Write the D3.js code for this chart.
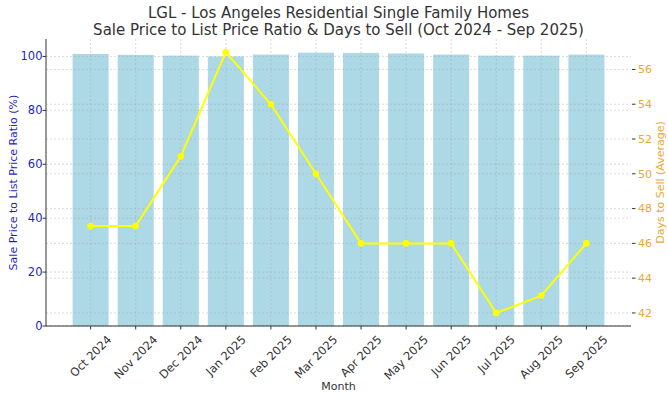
<!DOCTYPE html>
<html>
<head>
<meta charset="utf-8">
<script src="https://cdn.jsdelivr.net/npm/d3@7"></script>
<style>
  body { margin: 0; background: #fff; }
  svg { font-family: "DejaVu Sans", sans-serif; }
</style>
</head>
<body>
<script>
var months = ["Oct 2024", "Nov 2024", "Dec 2024", "Jan 2025", "Feb 2025", "Mar 2025",
              "Apr 2025", "May 2025", "Jun 2025", "Jul 2025", "Aug 2025", "Sep 2025"];
var saleToList = [100.9, 100.6, 100.3, 100.0, 100.7, 101.4, 101.3, 101.1, 100.7, 100.3, 100.3, 100.7];
var daysToSell = [47, 47, 51, 57, 54, 50, 46, 46, 46, 42, 43, 46];
var leftTicks = [0, 20, 40, 60, 80, 100];
var rightTicks = [42, 44, 46, 48, 50, 52, 54, 56];

var width = 668, height = 397;
var mLeft = 46, mRight = 631, mTop = 39, mBottom = 326;

var svg = d3.select("body").append("svg")
    .attr("width", width)
    .attr("height", height);

// matplotlib-like margins around bars
var x = d3.scaleLinear().domain([-0.99, months.length - 1 + 0.99]).range([mLeft, mRight]);
var yL = d3.scaleLinear().domain([0, d3.max(saleToList) * 1.05]).range([mBottom, mTop]);
var dMin = d3.min(daysToSell), dMax = d3.max(daysToSell), pad = (dMax - dMin) * 0.05;
var yR = d3.scaleLinear().domain([dMin - pad, dMax + pad]).range([mBottom, mTop]);

// bars
svg.append("g")
    .selectAll("rect")
    .data(saleToList)
    .join("rect")
    .attr("x", (d, i) => x(i - 0.4))
    .attr("width", x(0.8) - x(0))
    .attr("y", d => yL(d))
    .attr("height", d => yL(0) - yL(d))
    .attr("fill", "#add8e6");

// grids (drawn over bars, faint)
var grid = svg.append("g")
    .attr("stroke", "#a8a8a8")
    .attr("stroke-width", 0.6)
    .attr("stroke-dasharray", "2,2")
    .attr("opacity", 0.7);

grid.selectAll(".gx")
    .data(months)
    .join("line")
    .attr("x1", (d, i) => x(i)).attr("x2", (d, i) => x(i))
    .attr("y1", mTop).attr("y2", mBottom);

grid.selectAll(".gl")
    .data(leftTicks)
    .join("line")
    .attr("x1", mLeft).attr("x2", mRight)
    .attr("y1", d => yL(d)).attr("y2", d => yL(d));

grid.selectAll(".gr")
    .data(rightTicks)
    .join("line")
    .attr("x1", mLeft).attr("x2", mRight)
    .attr("y1", d => yR(d)).attr("y2", d => yR(d));

// days to sell line
var line = d3.line()
    .x((d, i) => x(i))
    .y(d => yR(d));

svg.append("path")
    .datum(daysToSell)
    .attr("d", line)
    .attr("fill", "none")
    .attr("stroke", "#ffff00")
    .attr("stroke-width", 2);

svg.append("g")
    .selectAll("circle")
    .data(daysToSell)
    .join("circle")
    .attr("cx", (d, i) => x(i))
    .attr("cy", d => yR(d))
    .attr("r", 3.3)
    .attr("fill", "#ffff00");

// spines
svg.append("line")
    .attr("x1", mLeft).attr("x2", mLeft)
    .attr("y1", mTop).attr("y2", mBottom)
    .attr("stroke", "#333").attr("stroke-width", 1);
svg.append("line")
    .attr("x1", mLeft).attr("x2", mRight)
    .attr("y1", mBottom).attr("y2", mBottom)
    .attr("stroke", "#333").attr("stroke-width", 1);

// left axis ticks
var gL = svg.append("g");
gL.selectAll("line")
    .data(leftTicks)
    .join("line")
    .attr("x1", mLeft - 3.5).attr("x2", mLeft)
    .attr("y1", d => yL(d)).attr("y2", d => yL(d))
    .attr("stroke", "#333");
gL.selectAll("text")
    .data(leftTicks)
    .join("text")
    .attr("x", mLeft - 3.5)
    .attr("y", d => yL(d))
    .attr("dy", "0.35em")
    .attr("text-anchor", "end")
    .attr("font-size", 11.5)
    .attr("fill", "#1f1fbf")
    .text(d => d);

// right axis ticks
var gR = svg.append("g");
gR.selectAll("line")
    .data(rightTicks)
    .join("line")
    .attr("x1", mRight + 1).attr("x2", mRight + 4.5)
    .attr("y1", d => yR(d)).attr("y2", d => yR(d))
    .attr("stroke", "#333");
gR.selectAll("text")
    .data(rightTicks)
    .join("text")
    .attr("x", mRight + 7)
    .attr("y", d => yR(d))
    .attr("dy", "0.35em")
    .attr("font-size", 11)
    .attr("fill", "#eba72f")
    .text(d => d);

// x ticks
var gX = svg.append("g");
gX.selectAll("line")
    .data(months)
    .join("line")
    .attr("x1", (d, i) => x(i)).attr("x2", (d, i) => x(i))
    .attr("y1", mBottom).attr("y2", mBottom + 3.5)
    .attr("stroke", "#333");
gX.selectAll("text")
    .data(months)
    .join("text")
    .attr("font-size", 11.5)
    .attr("fill", "#333")
    .attr("text-anchor", "middle")
    .attr("dominant-baseline", "central")
    .text(d => d)
    .each(function(d, i) {
        var w = this.getComputedTextLength();
        var half = (w + 13) * Math.SQRT1_2 / 2;
        var cx = x(i), cy = mBottom + 7 + half;
        d3.select(this).attr("transform", "translate(" + cx + "," + cy + ") rotate(-45)");
    });

// axis labels
svg.append("text")
    .attr("x", (mLeft + mRight) / 2)
    .attr("y", 390)
    .attr("text-anchor", "middle")
    .attr("font-size", 11)
    .attr("fill", "#333")
    .text("Month");

svg.append("text")
    .attr("transform", "translate(17," + (mTop + mBottom) / 2 + ") rotate(-90)")
    .attr("text-anchor", "middle")
    .attr("font-size", 11)
    .attr("fill", "#1f1fbf")
    .text("Sale Price to List Price Ratio (%)");

svg.append("text")
    .attr("transform", "translate(664," + (mTop + mBottom) / 2 + ") rotate(-90)")
    .attr("text-anchor", "middle")
    .attr("font-size", 11)
    .attr("fill", "#eba72f")
    .text("Days to Sell (Average)");

// title
var title = svg.append("text")
    .attr("x", (mLeft + mRight) / 2)
    .attr("text-anchor", "middle")
    .attr("font-size", 15)
    .attr("fill", "#333");
title.append("tspan").attr("x", (mLeft + mRight) / 2).attr("y", 18)
    .text("LGL - Los Angeles Residential Single Family Homes");
title.append("tspan").attr("x", (mLeft + mRight) / 2).attr("y", 35)
    .text("Sale Price to List Price Ratio & Days to Sell (Oct 2024 - Sep 2025)");
</script>
</body>
</html>
